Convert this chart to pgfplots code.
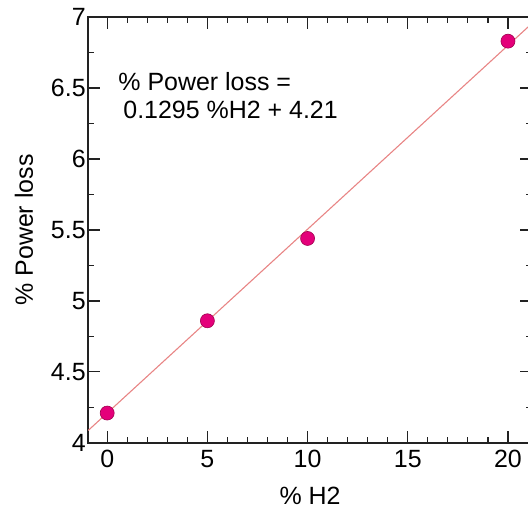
\documentclass[border=0pt]{standalone}
\usepackage{fontspec}
\setmainfont{Liberation Sans}
\usepackage{pgfplots}
\pgfplotsset{compat=1.18}

\definecolor{dotfill}{HTML}{E4007A}
\definecolor{dotedge}{HTML}{A0004F}
\definecolor{fitline}{HTML}{E88585}
\definecolor{axisgray}{HTML}{222222}

\begin{document}
\begin{tikzpicture}
\begin{axis}[
    scale only axis,
    width=443bp, height=425bp,
    xmin=-0.95, xmax=21.2,
    ymin=4, ymax=7,
    xtick={0,5,10,15,20},
    ytick={4,4.5,5,5.5,6,6.5,7},
    minor x tick num=4,
    minor y tick num=1,
    tick align=inside,
    major tick length=12bp,
    minor tick length=6bp,
    axis line style={line width=1.6bp, axisgray},
    every tick/.style={line width=1.2bp, axisgray},
    /pgf/number format/assume math mode=true,
    tick label style={font=\fontsize{25}{30}\selectfont, text=black},
    xticklabel style={yshift=-4bp},
    yticklabel style={xshift=1bp},
    label style={font=\fontsize{25}{30}\selectfont},
    xlabel={\% H2},
    ylabel={\% Power loss},
    xlabel style={yshift=-12bp},
    ylabel style={yshift=11bp},
    clip=true,
]
% fitted line: 0.1295 x + 4.21
\addplot[fitline, line width=1.1bp] coordinates {(-0.95,4.0870) (21.2,6.9554)};
\addplot[only marks, mark=*, mark size=7bp,
    mark options={fill=dotfill, draw=dotedge, line width=0.6bp}]
    coordinates {(0,4.21) (5,4.86) (10,5.44) (20,6.83)};
\node[anchor=north west, align=left, inner sep=0pt,
    font=\fontsize{25}{28}\selectfont] at (axis cs:0.55,6.61)
    {\% Power loss =\\\hspace{5bp}0.1295 \%H2 + 4.21};
\end{axis}
\pgfresetboundingbox
\path[use as bounding box] ([xshift=-88bp,yshift=-67bp]current axis.south west)
    rectangle ([xshift=-4bp,yshift=17bp]current axis.north east);
\end{tikzpicture}
\end{document}
